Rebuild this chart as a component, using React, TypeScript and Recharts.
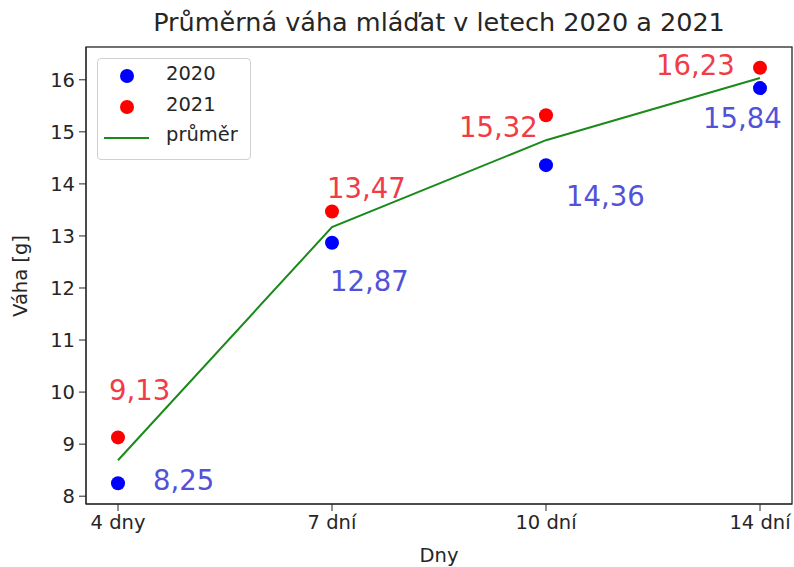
import { ComposedChart, Line, XAxis, YAxis, LabelList, Label } from 'recharts'

const days = ['4 dny', '7 dní', '10 dní', '14 dní']
const weight2020 = [8.25, 12.87, 14.36, 15.84]
const weight2021 = [9.13, 13.47, 15.32, 16.23]
const weightMean = [8.69, 13.17, 14.84, 16.035]
const yTicks = [8, 9, 10, 11, 12, 13, 14, 15, 16]

// label placement relative to the point (text start, baseline)
const OFFSET_2020 = [[35, 7], [-2, 48], [20, 41], [-57, 40]]
const OFFSET_2021 = [[-9, -37], [-5, -13], [-87, 22], [-104, 7]]

const FONT = '"DejaVu Sans", sans-serif'

const data = days.map((d, i) => ({
  day: d,
  y2020: weight2020[i],
  y2021: weight2021[i],
  mean: weightMean[i],
}))

const makeLabel = (color: string, offsets: number[][]) => (props: any) => {
  const { x, y, value, index } = props
  const [dx, dy] = offsets[index]
  return (
    <text x={x + dx} y={y + dy} fill={color} fontSize={27.5} fontFamily={FONT} textAnchor="start">
      {Number(value).toFixed(2).replace('.', ',')}
    </text>
  )
}

function LegendBox() {
  const row = { position: 'absolute' as const, left: 0, height: 31, width: '100%' }
  return (
    <div style={{
      position: 'absolute', left: 97, top: 58, width: 152, height: 100,
      border: '1px solid #d0d0d0', borderRadius: 4, background: 'rgba(255,255,255,0.8)',
      fontFamily: FONT, fontSize: 19.5, color: '#262626',
    }}>
      <div style={{ ...row, top: 2 }}>
        <span style={{ position: 'absolute', left: 22, top: 8, width: 14, height: 14, borderRadius: 7, background: '#0000ff' }} />
        <span style={{ position: 'absolute', left: 68, top: 1 }}>2020</span>
      </div>
      <div style={{ ...row, top: 33 }}>
        <span style={{ position: 'absolute', left: 22, top: 8, width: 14, height: 14, borderRadius: 7, background: '#ff0000' }} />
        <span style={{ position: 'absolute', left: 68, top: 1 }}>2021</span>
      </div>
      <div style={{ ...row, top: 64 }}>
        <span style={{ position: 'absolute', left: 6, top: 14, width: 45, height: 2, background: '#1a8a1a' }} />
        <span style={{ position: 'absolute', left: 68, top: 0 }}>průměr</span>
      </div>
    </div>
  )
}

export default function App() {
  return (
    <div style={{ position: 'absolute', left: 0, top: 0, width: 794, height: 567, background: '#fff' }}>
      <div style={{
        position: 'absolute', left: 86, width: 706, top: 7, textAlign: 'center',
        fontFamily: FONT, fontSize: 25.5, color: '#262626', whiteSpace: 'nowrap',
      }}>
        Průměrná váha mláďat v letech 2020 a 2021
      </div>
      <ComposedChart width={794} height={567} data={data} margin={{ top: 47, right: 2, bottom: 0, left: 0 }}>
        <XAxis
          dataKey="day"
          height={63}
          padding={{ left: 32, right: 32 }}
          stroke="#262626"
          tickSize={7}
          tick={{ fill: '#262626', fontSize: 19.5, fontFamily: FONT }}
          tickMargin={4}
          interval={0}
        >
          <Label
            content={() => (
              <text x={439} y={562} textAnchor="middle" fill="#262626" fontSize={19.5} fontFamily={FONT}>Dny</text>
            )}
          />
        </XAxis>
        <YAxis
          type="number"
          domain={[7.85, 16.63]}
          ticks={yTicks}
          width={86}
          stroke="#262626"
          tickSize={7}
          tick={{ fill: '#262626', fontSize: 19.5, fontFamily: FONT }}
          tickMargin={4}
        >
          <Label
            content={() => (
              <text x={27} y={276} transform="rotate(-90 27 276)" textAnchor="middle" fill="#262626" fontSize={19.5} fontFamily={FONT}>Váha [g]</text>
            )}
          />
        </YAxis>
        <Line dataKey="mean" stroke="#1a8a1a" strokeWidth={2} dot={false} isAnimationActive={false} />
        <Line dataKey="y2020" stroke="none" dot={{ r: 7, fill: '#0000ff', stroke: 'none' }} activeDot={false} isAnimationActive={false}>
          <LabelList dataKey="y2020" content={makeLabel('#5252d9', OFFSET_2020)} />
        </Line>
        <Line dataKey="y2021" stroke="none" dot={{ r: 7, fill: '#ff0000', stroke: 'none' }} activeDot={false} isAnimationActive={false}>
          <LabelList dataKey="y2021" content={makeLabel('#f03c46', OFFSET_2021)} />
        </Line>
      </ComposedChart>
      <svg width={794} height={567} style={{ position: 'absolute', left: 0, top: 0, pointerEvents: 'none' }}>
        <rect x={86} y={47} width={706} height={457} fill="none" stroke="#262626" strokeWidth={1.3} />
      </svg>
      <LegendBox />
    </div>
  )
}
